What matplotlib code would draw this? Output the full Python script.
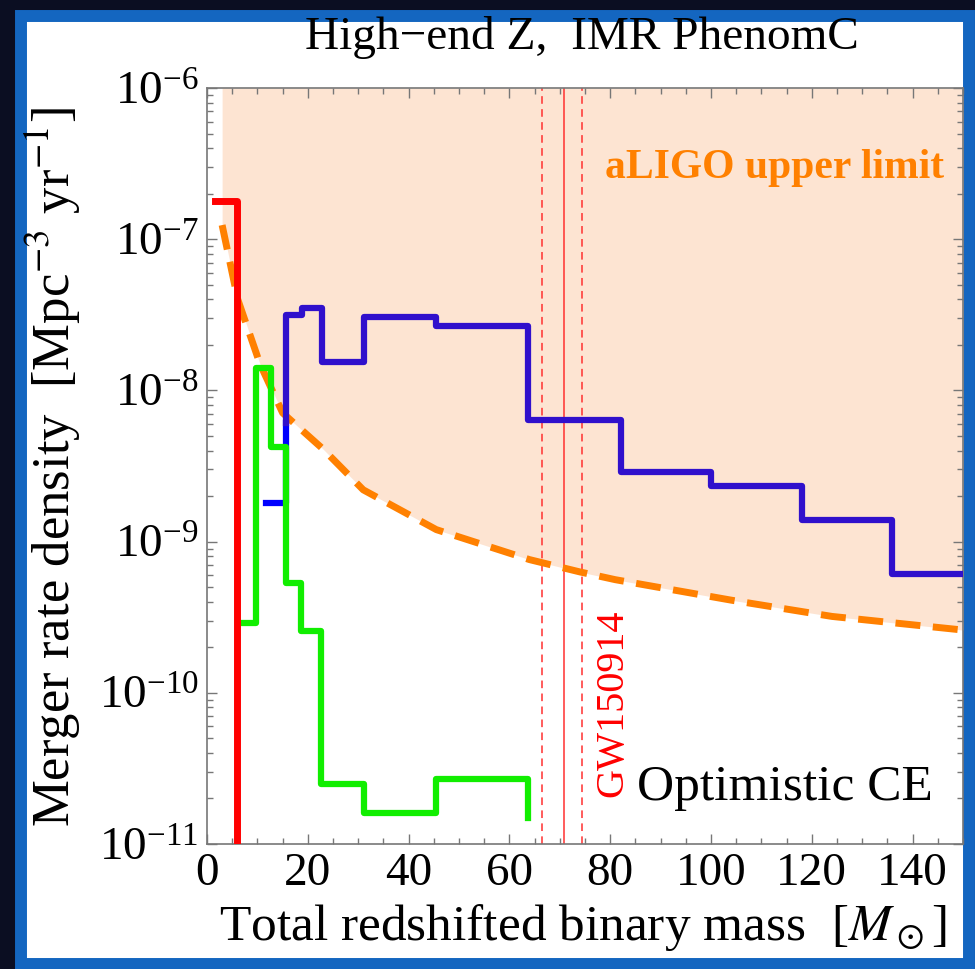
import numpy as np
import matplotlib.pyplot as plt
from matplotlib.patches import Rectangle
from matplotlib.ticker import MultipleLocator, LogLocator, NullFormatter

plt.rcParams['font.family'] = ['Liberation Serif', 'DejaVu Serif']
plt.rcParams['mathtext.fontset'] = 'stix'

# aLIGO upper limit curve (dashed orange)
ul_mass = [3.0, 6.1, 10.5, 15.0, 23.0, 31.0, 45.5, 64.0, 74.0, 81.0, 104.0, 124.0, 150.0]
ul_rate = [1.24e-7, 4.0e-8, 1.5e-8, 7.1e-9, 4.1e-9, 2.2e-9, 1.2e-9, 7.6e-10,
           6.3e-10, 5.6e-10, 4.1e-10, 3.2e-10, 2.6e-10]

# red histogram
red_edges = [1.6, 5.9]
red_vals = [1.78e-7]

# indigo histogram (main)
ind_edges = [15.6, 18.8, 22.8, 31.1, 45.5, 63.6, 82.2, 100.0, 118.0, 136.0, 150.0]
ind_vals = [3.16e-8, 3.5e-8, 1.55e-8, 3.06e-8, 2.66e-8, 6.37e-9, 2.88e-9,
            2.34e-9, 1.39e-9, 6.1e-10]
ind_start = 6.1e-9

# pure blue histogram (mostly hidden)
blu_edges = [11.8, 15.6]
blu_vals = [1.8e-9]
blu_end = 6.1e-9

# green histogram
grn_edges = [6.1, 9.7, 12.7, 15.6, 18.6, 22.6, 31.1, 45.5, 63.6]
grn_vals = [2.9e-10, 1.4e-8, 4.2e-9, 5.3e-10, 2.57e-10, 2.5e-11, 1.6e-11, 2.7e-11]
grn_end = 1.48e-11

# GW150914 total mass and range
gw_mass = 70.8
gw_lo = 66.4
gw_hi = 74.5


def steps(edges, vals, start=None, end=None):
    xs = []
    ys = []
    if start is not None:
        xs.append(edges[0])
        ys.append(start)
    for i in range(len(vals)):
        xs += [edges[i], edges[i + 1]]
        ys += [vals[i], vals[i]]
    if end is not None:
        xs.append(edges[-1])
        ys.append(end)
    return xs, ys


fig = plt.figure(figsize=(9.75, 9.69), dpi=100, facecolor='#0b0e22')
fig.add_artist(Rectangle((21 / 975, 5.5 / 969), 948 / 975, 947.5 / 969,
                         transform=fig.transFigure, facecolor='white',
                         edgecolor='#1466c0', linewidth=8.6, zorder=-1))

ax = fig.add_axes([207 / 975, 125 / 969, 756 / 975, 756 / 969])
ax.set_yscale('log')
ax.set_xlim(0, 150)
ax.set_ylim(1e-11, 1e-6)

ax.fill_between(ul_mass, ul_rate, 1e-6, color='#fde4d2', lw=0, zorder=0)
ax.plot(ul_mass, ul_rate, color='#ff8000', lw=5, dashes=(3.6, 1.8), zorder=3)

for m, ls in [(gw_lo, (0, (5, 3.5))), (gw_mass, '-'), (gw_hi, (0, (5, 3.5)))]:
    ax.axvline(m, color='#ff3030', lw=1.1, ls=ls, zorder=2)

x, y = steps(blu_edges, blu_vals, end=blu_end)
ax.plot(x, y, color='#0000ff', lw=4.5, zorder=4)
x, y = steps(ind_edges, ind_vals, start=ind_start)
ax.plot(x, y, color='#3010cc', lw=4.5, zorder=5)
x, y = steps(grn_edges, grn_vals, end=grn_end)
ax.plot(x, y, color='#11ee00', lw=4.5, zorder=6)
x, y = steps(red_edges, red_vals, end=1e-12)
ax.plot(x, y, color='#ff0000', lw=5, zorder=7)

ax.text(79, 2.54e-7, 'aLIGO upper limit', color='#ff8000', fontsize=30,
        fontweight='bold', ha='left', va='baseline')
ax.text(80.5, 2.04e-11, 'GW150914', color='#ff0000', fontsize=29,
        rotation=90, ha='center', va='bottom')
ax.text(85.3, 1.95e-11, 'Optimistic CE', color='black', fontsize=37,
        ha='left', va='baseline')

ax.xaxis.set_major_locator(MultipleLocator(20))
ax.xaxis.set_minor_locator(MultipleLocator(5))
ax.yaxis.set_major_locator(LogLocator(base=10, numticks=10))
ax.yaxis.set_minor_locator(LogLocator(base=10, subs=np.arange(2, 10), numticks=20))
ax.yaxis.set_minor_formatter(NullFormatter())
ax.tick_params(which='both', direction='in', top=True, right=True, color='#777777',
               labelsize=34, pad=6)
ax.tick_params(which='major', length=7, width=1)
ax.tick_params(which='minor', length=4, width=1)
for s in ax.spines.values():
    s.set_color('#777777')
    s.set_linewidth(1.2)

fig.text(0.597, 1 - 49 / 969, 'High\u2212end Z,  IMR PhenomC', fontsize=34,
         ha='center', va='baseline')
fig.text(0.598, 1 - 940 / 969, r'Total redshifted binary mass  [$M_\odot$]',
         fontsize=37, ha='center', va='baseline')
fig.text(53 / 975, 1 - 467 / 969, r'Merger rate density  [Mpc$^{-3}$ yr$^{-1}$]',
         fontsize=38, rotation=90, ha='center', va='center')

fig.savefig('out.png', dpi=100, facecolor=fig.get_facecolor())
